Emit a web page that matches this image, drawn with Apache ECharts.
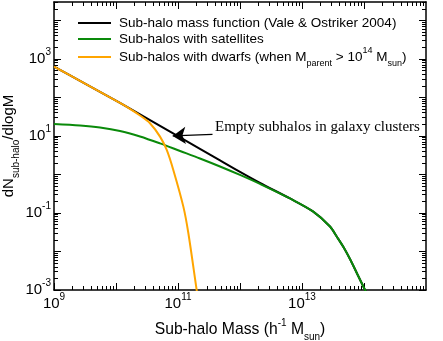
<!DOCTYPE html>
<html>
<head>
<meta charset="utf-8">
<script src="https://cdn.jsdelivr.net/npm/echarts@6/dist/echarts.min.js"></script>
<style>
html, body { margin: 0; padding: 0; background: #fff; }
#chart { width: 443px; height: 341px; }
</style>
</head>
<body>
<div id="chart"></div>
<script>
// decades (exponents of ten)
const xMajorExps = [9, 10, 11, 12, 13, 14, 15];
const xLabelExps = [9, 11, 13, 15];
const yMajorExps = [-3, -2, -1, 0, 1, 2, 3, 4];
const yLabelExps = [-3, -1, 1, 3];

// Sub-halo mass function (Vale & Ostriker 2004)
const blackMass = [1e9, 2.63e9, 5.52e9, 1.16e10, 2.44e10, 5.13e10, 1.08e11, 2.26e11, 4.76e11, 1e12, 2.1e12, 6.4e12, 1.5e13, 2.83e13, 3.67e13, 4.76e13, 6.17e13, 8e13, 1.04e14, 1.35e14];
const blackN = [631, 268, 139, 71.9, 36.4, 18.2, 9.15, 4.59, 2.31, 1.16, 0.6, 0.238, 0.11, 0.0446, 0.0238, 0.0123, 0.00566, 0.00238, 0.001, 0.00043];

// Sub-halos with satellites
const greenMass = [1e9, 2.63e9, 5.52e9, 1.16e10, 2.44e10, 5.13e10, 1.08e11, 2.26e11, 4.76e11, 1e12, 2.1e12, 6.4e12, 1.5e13, 2.83e13, 3.67e13, 4.76e13, 6.17e13, 8e13, 1.04e14, 1.35e14];
const greenN = [20.5, 18.7, 16.6, 13.5, 9.7, 6.4, 4.07, 2.6, 1.61, 0.97, 0.567, 0.238, 0.11, 0.0446, 0.0238, 0.0123, 0.00566, 0.00238, 0.001, 0.00043];

// Sub-halos with dwarfs
const orangeMass = [1e9, 2.63e9, 5.52e9, 1.16e10, 1.68e10, 2.44e10, 3.53e10, 5.13e10, 6.58e10, 8.4e10, 1.22e11, 1.47e11, 2e11, 2.12e11];
const orangeN = [631, 268, 139, 71.9, 50.6, 34, 21.4, 9.6, 4.33, 1.31, 0.146, 0.0297, 0.001, 0.00055];

// annotation: arrow (tail -> tip) and text anchor
const arrowFrom = [3.6e11, 11];
const arrowTo = [8.2e10, 10];
const noteAt = [3.95e11, 17];
const noteText = "Empty subhalos in galaxy clusters";

const seriesNames = [
  "Sub-halo mass function (Vale & Ostriker 2004)",
  "Sub-halos with satellites",
  "Sub-halos with dwarfs (when Mparent > 10^14 Msun)"
];
const legendText = [
  "Sub-halo mass function (Vale & Ostriker 2004)",
  "Sub-halos with satellites",
  "Sub-halos with dwarfs (when M{sub|parent} > 10{sup|14} M{sub|sun})"
];
const colors = ["#000000", "#0a8a0a", "#ffa500"];

const sans = "'Liberation Sans', Arial, Helvetica, sans-serif";
const serif = "'Liberation Serif', 'Times New Roman', serif";

const pow = e => Math.pow(10, e);
function minors(lo, hi, maxVal) {
  let out = [];
  for (let e = lo; e <= hi; e++) {
    for (let k = 2; k <= 9; k++) {
      let v = k * pow(e);
      if (v <= maxVal) out.push(v);
    }
  }
  return out;
}
const xMajor = xMajorExps.map(pow);
const xMinor = minors(9, 14, 1e15);
const yMajor = yMajorExps.map(pow);
const yMinor = minors(-3, 4, 3e4);

const tickRich = {
  b: { fontFamily: sans, fontSize: 15, color: "#000", lineHeight: 24 },
  sup: { fontFamily: sans, fontSize: 10, color: "#000", verticalAlign: "top", lineHeight: 10 }
};
const supFmt = v => "{b|10}{sup|" + Math.round(Math.log10(v)) + "}";

function xAxisCfg(pos, major) {
  return {
    type: "log",
    min: 1e9,
    max: 1e15,
    position: pos,
    axisLine: { show: major, lineStyle: { color: "#000", width: 1.5 } },
    axisTick: {
      show: true,
      inside: true,
      length: major ? 7 : 4,
      lineStyle: { color: "#000", width: 1 },
      customValues: major ? xMajor : xMinor
    },
    axisLabel: {
      show: major && pos === "bottom",
      customValues: xLabelExps.map(pow),
      formatter: supFmt,
      margin: 2,
      rich: tickRich
    },
    splitLine: { show: false }
  };
}
function yAxisCfg(pos, major) {
  return {
    type: "log",
    min: 1e-3,
    max: 3e4,
    position: pos,
    axisLine: { show: major, lineStyle: { color: "#000", width: 1.5 } },
    axisTick: {
      show: true,
      inside: true,
      length: major ? 7 : 4,
      lineStyle: { color: "#000", width: 1 },
      customValues: major ? yMajor : yMinor
    },
    axisLabel: {
      show: major && pos === "left",
      customValues: yLabelExps.map(pow),
      formatter: supFmt,
      margin: 3,
      rich: tickRich
    },
    splitLine: { show: false }
  };
}

let xAxes = [xAxisCfg("bottom", true), xAxisCfg("bottom", false), xAxisCfg("top", true), xAxisCfg("top", false)];
xAxes[0].name = "Sub-halo Mass (h{sup|-1} M{sub|sun})";
xAxes[0].nameLocation = "middle";
xAxes[0].nameGap = 28;
xAxes[0].nameMoveOverlap = false;
xAxes[0].nameTextStyle = {
  fontFamily: sans, fontSize: 15.7, color: "#000", lineHeight: 24,
  rich: {
    sup: { fontFamily: sans, fontSize: 10, color: "#000", verticalAlign: "top", lineHeight: 10 },
    sub: { fontFamily: sans, fontSize: 10, color: "#000", verticalAlign: "bottom", lineHeight: 10 }
  }
};
let yAxes = [yAxisCfg("left", true), yAxisCfg("left", false), yAxisCfg("right", true), yAxisCfg("right", false)];
yAxes[0].name = "dN{sub|sub-halo}/dlogM";
yAxes[0].nameLocation = "middle";
yAxes[0].nameGap = 33;
yAxes[0].nameMoveOverlap = false;
yAxes[0].nameTextStyle = {
  fontFamily: sans, fontSize: 15, color: "#000", lineHeight: 24,
  rich: {
    sub: { fontFamily: sans, fontSize: 10, color: "#000", verticalAlign: "bottom", lineHeight: 10 }
  }
};

function legendCfg(i, top) {
  return {
    data: [seriesNames[i]],
    left: 78,
    top: top,
    padding: 0,
    icon: "rect",
    itemWidth: 33,
    itemHeight: 2,
    selectedMode: false,
    formatter: () => legendText[i],
    textStyle: {
      fontFamily: sans,
      fontSize: 13.5,
      color: "#000",
      lineHeight: 22,
      padding: [0, 0, 0, 3],
      rich: {
        sub: { fontFamily: sans, fontSize: 9, color: "#000", verticalAlign: "bottom", lineHeight: 10 },
        sup: { fontFamily: sans, fontSize: 9, color: "#000", verticalAlign: "top", lineHeight: 10 }
      }
    }
  };
}

const zip = (a, b) => a.map((m, i) => [m, b[i]]);
function lineSeries(i, mass, vals) {
  return {
    name: seriesNames[i],
    type: "line",
    data: zip(mass, vals),
    xAxisIndex: 0,
    yAxisIndex: 0,
    showSymbol: false,
    symbol: "none",
    smooth: 0.3,
    clip: true,
    lineStyle: { color: colors[i], width: 2, join: "round" },
    itemStyle: { color: colors[i] },
    emphasis: { disabled: true }
  };
}

let series = [
  lineSeries(0, blackMass, blackN),
  lineSeries(1, greenMass, greenN),
  lineSeries(2, orangeMass, orangeN)
];
series[0].markLine = {
  silent: true,
  animation: false,
  symbol: ["none", "arrow"],
  symbolSize: 13,
  lineStyle: { color: "#000", width: 1.2, type: "solid" },
  label: { show: false },
  emphasis: { disabled: true },
  data: [[{ coord: arrowFrom }, { coord: arrowTo }]]
};
series[0].markPoint = {
  silent: true,
  animation: false,
  symbol: "circle",
  symbolSize: 0,
  label: {
    show: true,
    position: "right",
    distance: 0,
    formatter: noteText,
    fontFamily: serif,
    fontSize: 15,
    color: "#000"
  },
  emphasis: { disabled: true },
  data: [{ coord: noteAt }]
};

let myChart = echarts.init(document.getElementById("chart"));
myChart.setOption({
  animation: false,
  grid: { left: 54, right: 17, top: 2, bottom: 51, containLabel: false, outerBoundsMode: "none" },
  legend: [legendCfg(0, 12), legendCfg(1, 28), legendCfg(2, 46)],
  xAxis: xAxes,
  yAxis: yAxes,
  series: series
});
</script>
</body>
</html>
